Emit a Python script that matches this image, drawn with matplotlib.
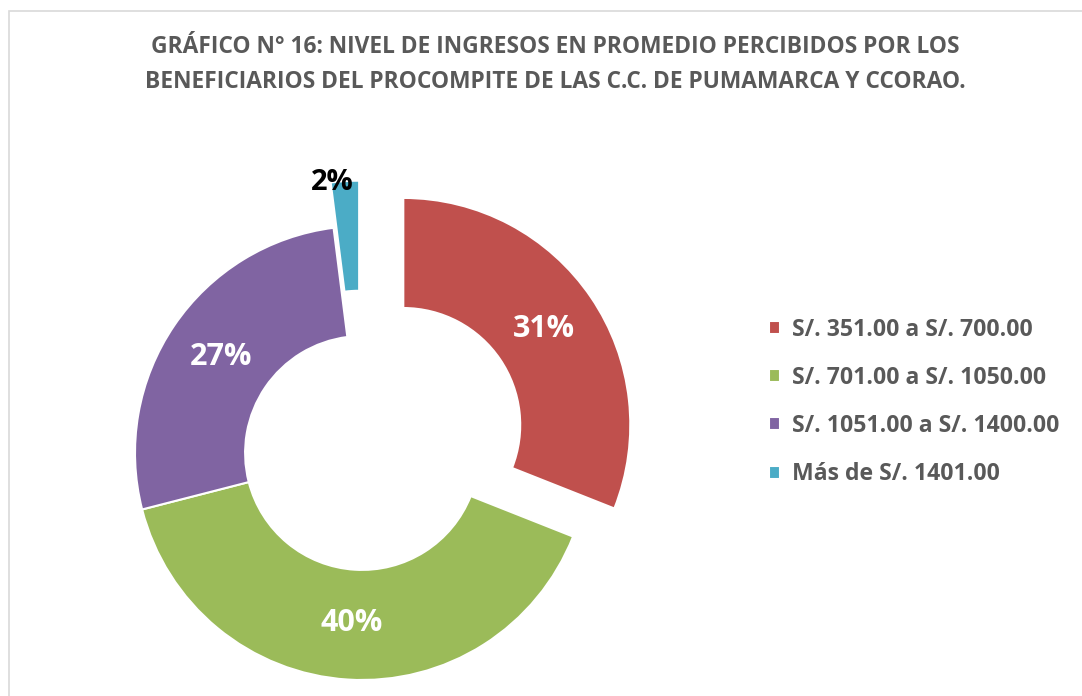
import matplotlib.pyplot as plt
from matplotlib.patches import Rectangle

# Data
labels = ['S/. 351.00 a S/. 700.00', 'S/. 701.00 a S/. 1050.00',
          'S/. 1051.00 a S/. 1400.00', 'Más de S/. 1401.00']
values = [31, 40, 27, 2]
explode = [0.22, 0, 0, 0.2]
colors = ['#C0504D', '#9BBB59', '#8064A2', '#4BACC6']

W, H = 1082, 696
fig = plt.figure(figsize=(W / 100, H / 100), dpi=100)
plt.rcParams['font.family'] = ['Open Sans', 'DejaVu Sans']

# chart frame (only top and left edges visible in the crop)
fig.add_artist(Rectangle((9 / W, -0.1), 1.2, (H - 11) / H + 0.1, transform=fig.transFigure,
                         fill=False, edgecolor='#D9D9D9', linewidth=1.2))

# pie axes: center (362, 453) px from top, radius 227 px
R = 227
cx, cy = 362, H - 453
half = 1.3 * R
ax = fig.add_axes([(cx - half) / W, (cy - half) / H, 2 * half / W, 2 * half / H])

wedges, texts, autotexts = ax.pie(values, explode=explode, colors=colors,
                                  startangle=90, counterclock=False,
                                  autopct='%1.0f%%', pctdistance=0.75,
                                  wedgeprops=dict(width=0.485, edgecolor='white', linewidth=1.5),
                                  textprops=dict(color='white', fontsize=22, fontweight='bold'))
ax.set_xlim(-1.3, 1.3)
ax.set_ylim(-1.3, 1.3)
ax.axis('off')

# small slice label sits outside, in black
autotexts[3].set_color('black')
autotexts[3].set_fontsize(21)
autotexts[3].set_position((-0.13, 1.19))

title_x = 555 / W
fig.text(title_x, 1 - 47 / H, 'GRÁFICO N° 16: NIVEL DE INGRESOS EN PROMEDIO PERCIBIDOS POR LOS',
         ha='center', va='center', fontsize=16.4, fontweight='bold', color='#595959')
fig.text(title_x, 1 - 82 / H, 'BENEFICIARIOS DEL PROCOMPITE DE LAS C.C. DE PUMAMARCA Y CCORAO.',
         ha='center', va='center', fontsize=16.4, fontweight='bold', color='#595959')

leg = fig.legend(wedges, labels, loc='center left', bbox_to_anchor=(748 / W, 1 - 402 / H),
                 frameon=False, fontsize=16.6, handlelength=0.5, handleheight=0.5,
                 handletextpad=0.5, labelspacing=1.05)
for t in leg.get_texts():
    t.set_color('#595959')
    t.set_fontweight('bold')

fig.savefig('out.png', dpi=100)
